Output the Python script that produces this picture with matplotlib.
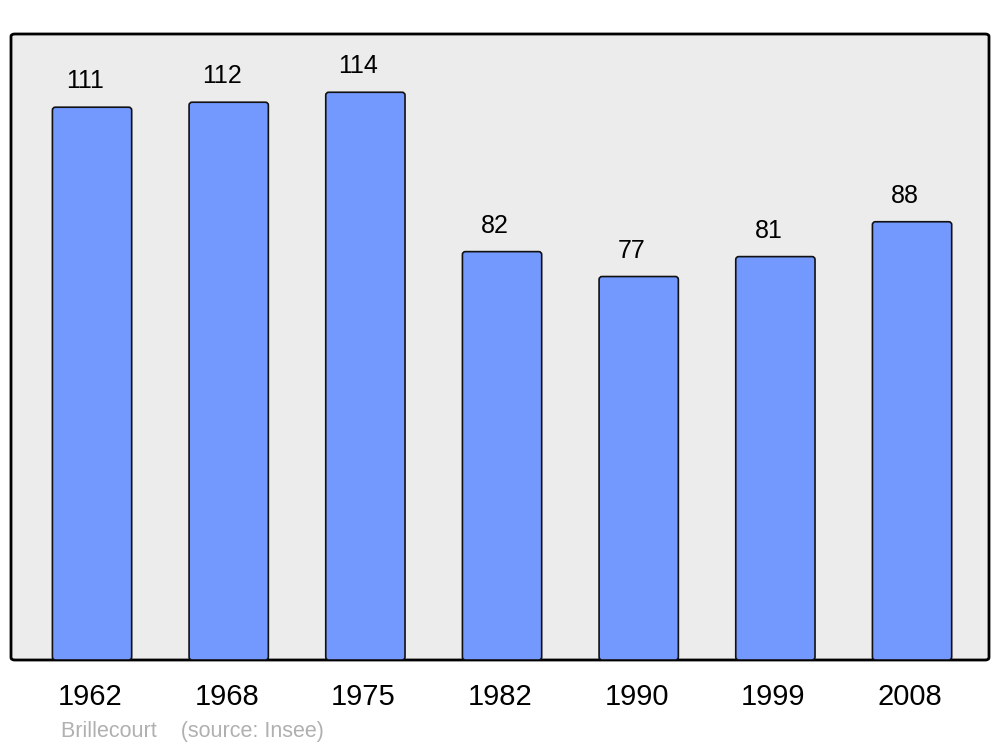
import matplotlib.pyplot as plt
from matplotlib.patches import FancyBboxPatch

years = ["1962", "1968", "1975", "1982", "1990", "1999", "2008"]
population = [111, 112, 114, 82, 77, 81, 88]

plt.rcParams['font.family'] = ['Liberation Sans', 'DejaVu Sans']

fig = plt.figure(figsize=(10, 7.47), dpi=100)
ax = fig.add_axes([0.011, 1 - 660 / 747, 0.978, 626 / 747])
ax.set_xlim(-0.593, 6.563)
ax.set_ylim(0, 125.7)
ax.axis('off')

# rounded grey frame
frame = FancyBboxPatch((0, 0), 1, 1, boxstyle="round,pad=0,rounding_size=0.004",
                       transform=ax.transAxes, facecolor='#ececec',
                       edgecolor='black', linewidth=2, zorder=0, clip_on=False)
ax.add_patch(frame)

x = list(range(len(years)))
bars = ax.bar(x, population, width=0.58, color='none', edgecolor='none')

# redraw each bar with slightly rounded corners
for b in bars:
    rb = FancyBboxPatch((b.get_x(), b.get_y()), b.get_width(), b.get_height(),
                        boxstyle="round,pad=0,rounding_size=0.022",
                        mutation_aspect=27.4, facecolor='#7399ff',
                        edgecolor='#111111', linewidth=1.2, zorder=2)
    ax.add_patch(rb)

for i, v in enumerate(population):
    ax.text(i - 0.05, v + 5.2, str(v), ha='center', va='center', fontsize=18)

for i, y in enumerate(years):
    ax.text(i - 0.015, -7.5, y, ha='center', va='center', fontsize=21,
            clip_on=False)

fig.text(0.061, 1 - 731 / 747, "Brillecourt    (source: Insee)", color='#b0b0b0',
         fontsize=15.5, ha='left', va='center')

fig.savefig("out.png", dpi=100)
